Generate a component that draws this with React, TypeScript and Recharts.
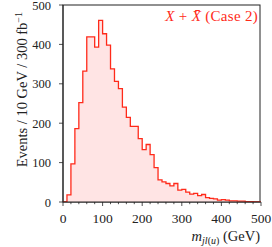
import { AreaChart, Area, XAxis, YAxis } from 'recharts';

// bin lower edges (GeV) and event counts per 10 GeV bin
const binEdges = [
  0, 10, 20, 30, 40, 50, 60, 70, 80, 90,
  100, 110, 120, 130, 140, 150, 160, 170, 180, 190,
  200, 210, 220, 230, 240, 250, 260, 270, 280, 290,
  300, 310, 320, 330, 340, 350, 360, 370, 380, 390,
  400, 410, 420, 430, 440, 450, 460, 470, 480, 490,
];
const counts = [
  0, 18, 97, 186, 252, 332, 419, 419, 393, 461,
  427, 398, 338, 306, 288, 241, 215, 192, 192, 161,
  133, 146, 120, 87, 56, 51, 47, 41, 47, 30,
  32, 25, 20, 22, 16, 19, 11, 9, 8, 5,
  6, 5, 3, 3, 2, 2, 1, 1, 0, 0,
];
const xTicks = [0, 20, 40, 60, 80, 100, 120, 140, 160, 180, 200, 220, 240, 260, 280, 300, 320, 340, 360, 380, 400, 420, 440, 460, 480, 500];
const yTicks = [0, 100, 200, 300, 400, 500];
const legendLabel = '(Case 2)';

const data = [
  ...binEdges.map((x, i) => ({ x, count: counts[i] })),
  { x: 500, count: counts[counts.length - 1] },
];

const FONT = "'Liberation Serif', 'DejaVu Serif', serif";
const RED = '#ff2a1a';

const XTick = (props: any) => {
  const { x, y, payload } = props;
  const major = payload.value % 100 === 0;
  return (
    <g>
      <line x1={x} x2={x} y1={y} y2={y + (major ? 4 : 2.2)} stroke="#222" strokeWidth={0.8} />
      {major && (
        <text x={x} y={y + 21} textAnchor="middle" style={{ fontSize: 13.5, fontFamily: FONT }} fill="#222">
          {payload.value}
        </text>
      )}
    </g>
  );
};

const YTick = (props: any) => {
  const { x, y, payload } = props;
  return (
    <g>
      <line x1={x} x2={x - 4} y1={y} y2={y} stroke="#222" strokeWidth={0.8} />
      <text x={x - 12} y={y + 4.5} textAnchor="end" style={{ fontSize: 12.5, fontFamily: FONT }} fill="#222">
        {payload.value}
      </text>
    </g>
  );
};

export default function App() {
  return (
    <div style={{ position: 'fixed', left: 0, top: 0, width: 272, height: 247, background: '#fff' }}>
      <AreaChart width={272} height={247} data={data} margin={{ top: 5, right: 11, bottom: 44, left: 62 }}>
        <XAxis
          xAxisId="b"
          dataKey="x"
          type="number"
          domain={[0, 500]}
          ticks={xTicks}
          interval={0}
          tickSize={0}
          tickMargin={0}
          height={1}
          tick={<XTick />}
          axisLine={{ stroke: '#222', strokeWidth: 1 }}
          tickLine={false}
          allowDataOverflow
        />
        <YAxis
          yAxisId="l"
          type="number"
          domain={[0, 500]}
          ticks={yTicks}
          interval={0}
          tickSize={0}
          tickMargin={0}
          width={1}
          tick={<YTick />}
          axisLine={{ stroke: '#222', strokeWidth: 1 }}
          tickLine={false}
          allowDataOverflow
        />
        <Area
          xAxisId="b"
          yAxisId="l"
          type="stepAfter"
          dataKey="count"
          stroke={RED}
          strokeWidth={1.3}
          fill="#ffe4e4"
          fillOpacity={1}
          isAnimationActive={false}
          dot={false}
          activeDot={false}
        />
        <rect x={63} y={5} width={197} height={197} fill="none" stroke="#222" strokeWidth={1} />
        <text x={258} y={21} textAnchor="end" style={{ fontSize: 15, fontFamily: FONT, letterSpacing: 0.3 }} fill={RED}>
          <tspan fontStyle="italic">X</tspan>
          <tspan> + </tspan>
          <tspan fontStyle="italic">X̄</tspan>
          <tspan> {legendLabel}</tspan>
        </text>
        <text x={260} y={241} textAnchor="end" style={{ fontSize: 14.5, fontFamily: FONT }} fill="#222">
          <tspan fontStyle="italic">m</tspan>
          <tspan fontSize={10} dy={3}><tspan fontStyle="italic">jl</tspan>(<tspan fontStyle="italic">u</tspan>)</tspan>
          <tspan dy={-3}> (GeV)</tspan>
        </text>
        <text transform="translate(27, 12) rotate(-90)" textAnchor="end" style={{ fontSize: 14.5, fontFamily: FONT }} fill="#222">
          <tspan>Events / 10 GeV / 300 fb</tspan>
          <tspan fontSize={10} dy={-5}>−1</tspan>
        </text>
      </AreaChart>
    </div>
  );
}
